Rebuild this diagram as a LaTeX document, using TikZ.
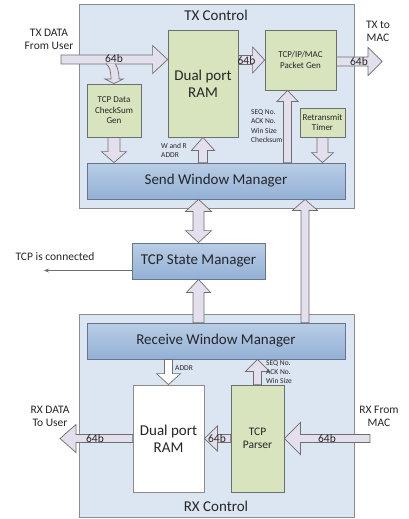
\documentclass[tikz,border=0pt]{standalone}
\usepackage{fontspec}
\setmainfont{Carlito}
\usetikzlibrary{calc,arrows.meta}
\definecolor{ctrlfill}{HTML}{DCE6F2}
\definecolor{ctrlline}{HTML}{8C8C8C}
\definecolor{greenfill}{HTML}{D7E4BD}
\definecolor{blueup}{HTML}{B9CDE5}
\definecolor{bluedown}{HTML}{93B1D6}
\definecolor{blueline}{HTML}{66768A}
\definecolor{arrowfill}{HTML}{E4DFEC}
\definecolor{arrowline}{HTML}{6E6E6E}
\definecolor{labeltext}{HTML}{262626}

\tikzset{
  bshaft/.store in=\bshaft, bhead/.store in=\bhead, bheadlen/.store in=\bheadlen,
  bshaft=4.5pt, bhead=12.5pt, bheadlen=12pt,
  bigtext/.style={font=\fontsize{15}{17}\selectfont},
  midtext/.style={font=\fontsize{11.5}{13}\selectfont},
  smalltext/.style={font=\fontsize{9}{10.5}\selectfont},
  tinytext/.style={font=\fontsize{7.5}{9.2}\selectfont},
  ctrlbox/.style={draw=ctrlline, fill=ctrlfill, line width=0.8pt, inner sep=0pt},
  greenbox/.style={draw=arrowline, fill=greenfill, line width=0.8pt, inner sep=0pt, align=center, text=labeltext},
  whitebox/.style={draw=ctrlline, fill=white, line width=0.8pt, inner sep=0pt, align=center, text=labeltext},
  bluebox/.style={draw=blueline, top color=blueup, bottom color=bluedown, line width=0.8pt, inner sep=0pt, text=labeltext},
  blockarrow/.style={draw=arrowline, fill=arrowfill, line width=0.7pt, line join=miter},
  thinarrow/.style={draw=arrowline, line width=0.7pt, -{Stealth[length=5pt,width=4pt]}},
  txtlabel/.style={inner sep=0pt, align=center, text=labeltext},
  sidelabel/.style={inner sep=0pt, align=left, anchor=west, text=labeltext, tinytext}
}

\newcommand{\barrow}[3][]{%
  \path #2 coordinate (ba-s);
  \path #3 coordinate (ba-e);
  \path[#1] ($(ba-e)!\bheadlen!(ba-s)$) coordinate (ba-h);
  \draw[blockarrow,#1] ($(ba-s)!\bshaft!90:(ba-e)$) -- ($(ba-h)!\bshaft!-90:(ba-s)$)
    -- ($(ba-h)!\bhead!-90:(ba-s)$) -- (ba-e) -- ($(ba-h)!\bhead!90:(ba-s)$)
    -- ($(ba-h)!\bshaft!90:(ba-s)$) -- ($(ba-s)!\bshaft!-90:(ba-e)$) -- cycle;}

\newcommand{\dblarrow}[3][]{%
  \path #2 coordinate (ba-s);
  \path #3 coordinate (ba-e);
  \path[#1] ($(ba-e)!\bheadlen!(ba-s)$) coordinate (ba-h)
    ($(ba-s)!\bheadlen!(ba-e)$) coordinate (ba-g);
  \draw[blockarrow,#1] (ba-s) -- ($(ba-g)!\bhead!90:(ba-e)$) -- ($(ba-g)!\bshaft!90:(ba-e)$)
    -- ($(ba-h)!\bshaft!-90:(ba-s)$) -- ($(ba-h)!\bhead!-90:(ba-s)$) -- (ba-e)
    -- ($(ba-h)!\bhead!90:(ba-s)$) -- ($(ba-h)!\bshaft!90:(ba-s)$)
    -- ($(ba-g)!\bshaft!-90:(ba-e)$) -- ($(ba-g)!\bhead!-90:(ba-e)$) -- cycle;}

\begin{document}
\begin{tikzpicture}[x=1pt,y=-1pt]
  \useasboundingbox (0,0) rectangle (408,519);

  \node[ctrlbox, minimum width=275, minimum height=204] (tx) at (216.5,106) {};
  \node[ctrlbox, minimum width=275, minimum height=203] (rx) at (216.5,415.5) {};
  \node[txtlabel, bigtext] (txtitle) at (216,15) {TX Control};
  \node[txtlabel, bigtext] (rxtitle) at (216,506) {RX Control};

  \node[greenbox, bigtext, minimum width=70, minimum height=107] (txram) at (203,83.5) {Dual port\\RAM};
  \node[greenbox, smalltext, minimum width=54, minimum height=53] (cksum) at (114,110.5) {TCP Data\\CheckSum\\Gen};
  \node[greenbox, smalltext, minimum width=71, minimum height=60] (pktgen) at (300.5,60) {TCP/IP/MAC\\Packet Gen};
  \node[greenbox, smalltext, minimum width=45, minimum height=29] (retx) at (322.5,122.5) {Retransmit\\Timer};
  \node[bluebox, bigtext, minimum width=258, minimum height=36] (swm) at (216,181) {Send Window Manager};
  \node[bluebox, bigtext, minimum width=133, minimum height=36] (ssm) at (198.5,261) {TCP State Manager};
  \node[bluebox, bigtext, minimum width=258, minimum height=36] (rwm) at (216,341) {Receive Window Manager};
  \node[whitebox, bigtext, minimum width=71, minimum height=107] (rxram) at (168.5,438.5) {Dual port\\RAM};
  \node[greenbox, midtext, minimum width=53, minimum height=107] (parser) at (257.5,438.5) {TCP\\Parser};

  \coordinate (txin) at (61,59.5);
  \coordinate (txout) at (382,61.5);
  \coordinate (pgin) at ([xshift=-13pt]pktgen.south);
  \coordinate (upx) at ([xshift=89pt]rwm.north);
  \coordinate (conn) at (44,270.5);
  \coordinate (rxin) at (370,438.5);
  \coordinate (rxout) at (60,438.5);

  \barrow[bshaft=4.5pt, bhead=14pt, bheadlen=15pt]{(txin)}{(txram.west |- txin)}
  \draw[blockarrow] (106,63.6) .. controls (110,67) and (111,72) .. (111,79) -- (105,79)
    -- (cksum.north) -- (123,79) -- (119,79) .. controls (119,71) and (117,66) .. (115,63.6);
  \barrow[bshaft=6pt, bhead=12.5pt, bheadlen=11pt]{(cksum.south)}{(cksum.south |- swm.north)}
  \barrow[bshaft=4.5pt, bhead=11.5pt, bheadlen=13pt]{(swm.north -| txram)}{(txram.south)}
  \barrow[bshaft=4.5pt, bhead=13pt]{(txram.east |- pktgen)}{(pktgen.west)}
  \barrow[bshaft=4.5pt, bhead=14pt, bheadlen=14pt]{(pktgen.east |- txout)}{(txout)}
  \barrow[bshaft=4pt, bhead=10.5pt, bheadlen=11pt]{(swm.north -| pgin)}{(pgin)}
  \barrow[bshaft=5.5pt, bhead=11pt, bheadlen=10pt]{(retx.south)}{(retx.south |- swm.north)}
  \dblarrow[bshaft=5.5pt, bhead=13pt]{(swm.south -| ssm)}{(ssm.north)}
  \barrow[bshaft=5.5pt, bhead=12pt, bheadlen=13pt]{(rwm.north -| ssm)}{(ssm.south)}
  \barrow[bshaft=4pt, bhead=12.5pt, bheadlen=11pt]{(upx)}{(upx |- swm.south)}
  \draw[thinarrow] (ssm.west |- conn) -- (conn);
  \barrow[fill=white, bshaft=4pt, bhead=12pt, bheadlen=11pt]{(rwm.south -| rxram)}{(rxram.north)}
  \barrow[bshaft=4pt, bhead=12pt]{(parser.north)}{(parser.north |- rwm.south)}
  \barrow[bshaft=4pt, bhead=12.5pt, bheadlen=13pt]{(parser.west)}{(rxram.east)}
  \barrow[bshaft=4pt, bhead=16pt, bheadlen=16pt]{(rxin)}{(parser.east)}
  \barrow[bshaft=4pt, bhead=14pt, bheadlen=16pt]{(rxram.west)}{(rxout)}

  \node[txtlabel, midtext] (txdata) at (49,39) {TX DATA\\From User};
  \node[txtlabel, midtext] (txmac) at (378,31) {TX to\\MAC};
  \node[txtlabel, midtext] (conntext) at (55,257) {TCP is connected};
  \node[txtlabel, midtext] (rxdata) at (50,416) {RX DATA\\To User};
  \node[txtlabel, midtext] (rxmac) at (379,416) {RX From\\MAC};
  \node[sidelabel] (wraddr) at (161,150.5) {W and R\\ADDR};
  \node[sidelabel] (txseq) at (251,126) {SEQ No.\\ACK No.\\Win Size\\Checksum};
  \node[sidelabel] (rxaddr) at (175,368) {ADDR};
  \node[sidelabel] (rxseq) at (266,372) {SEQ No.\\ACK No.\\Win Size};

  \node[txtlabel, midtext] (w1) at (114,59) {64b};
  \node[txtlabel, midtext] (w2) at (246.5,61) {64b};
  \node[txtlabel, midtext] (w3) at (359,61.5) {64b};
  \node[txtlabel, midtext] (w4) at (217,438.5) {64b};
  \node[txtlabel, midtext] (w5) at (327,438.5) {64b};
  \node[txtlabel, midtext] (w6) at (95,438.5) {64b};
\end{tikzpicture}
\end{document}
